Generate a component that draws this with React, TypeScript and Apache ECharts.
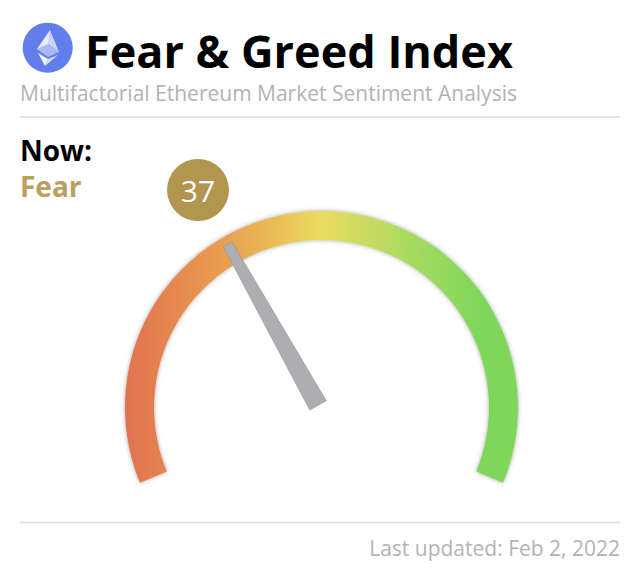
import { useEffect, useRef } from "react";
import * as echarts from "echarts";

const gaugeValue = 37;
const gaugeMin = 0;
const gaugeMax = 100;
const mood = "Fear";
const gradientStops: [number, string][] = [
  [0, "#e2714f"],
  [0.27, "#e9a250"],
  [0.5, "#eadc5f"],
  [0.72, "#a9da60"],
  [0.9, "#7fd75a"],
  [1, "#7fd75a"],
];

const font = "'Open Sans'";

export default function App() {
  const hostRef = useRef<HTMLDivElement>(null);

  useEffect(() => {
    const el = hostRef.current;
    if (!el) return;
    const chart = echarts.init(el, undefined, { renderer: "svg" });

    chart.setOption({
      animation: false,
      backgroundColor: "#fff",
      title: {
        text: "Fear & Greed Index",
        left: 85,
        top: 27,
        padding: 0,
        textStyle: { fontFamily: font, fontSize: 45, lineHeight: 46, fontWeight: "bold", color: "#000" },
      },
      graphic: [
        { type: "circle", shape: { cx: 47.7, cy: 47.7, r: 25 }, style: { fill: "#627eea" } },
        { type: "polygon", shape: { points: [[50, 30], [37, 49], [48, 55]] }, style: { fill: "#e6eafb" } },
        { type: "polygon", shape: { points: [[50, 30], [59, 52], [48, 44]] }, style: { fill: "#c9d3f8" } },
        { type: "polygon", shape: { points: [[37, 49], [48, 44], [59, 52], [48, 57]] }, style: { fill: "#a9b9f3" } },
        { type: "polygon", shape: { points: [[38, 53], [48, 59], [45, 66]] }, style: { fill: "#f4f6fe" } },
        { type: "polygon", shape: { points: [[48, 59], [58, 55], [45, 66]] }, style: { fill: "#d3dbf9" } },
        { type: "text", x: 20, y: 81, style: { text: "Multifactorial Ethereum Market Sentiment Analysis", fontFamily: font, fontSize: 21, lineHeight: 24, fill: "#b3b3b3" } },
        { type: "line", shape: { x1: 20, y1: 117, x2: 620, y2: 117 }, style: { stroke: "#dddddd", lineWidth: 1.5 } },
        { type: "text", x: 20, y: 136, style: { text: "Now:", fontFamily: font, fontSize: 28, fontWeight: "bold", fill: "#000" } },
        { type: "text", x: 20, y: 172, style: { text: mood, fontFamily: font, fontSize: 28, fontWeight: "bold", fill: "#b9a061" } },
        { type: "line", shape: { x1: 20, y1: 522.5, x2: 620, y2: 522.5 }, style: { stroke: "#dddddd", lineWidth: 1.5 } },
        { type: "text", x: 620, y: 537, style: { text: "Last updated: Feb 2, 2022", align: "right", fontFamily: font, fontSize: 21, fill: "#b3b3b3" } },
      ],
      series: [
        {
          type: "gauge",
          center: [321.5, 407.5],
          radius: 196.5,
          startAngle: 202.5,
          endAngle: -22.5,
          min: gaugeMin,
          max: gaugeMax,
          axisLine: {
            roundCap: false,
            lineStyle: {
              width: 29,
              color: [
                [
                  1,
                  new echarts.graphic.LinearGradient(
                    0,
                    0,
                    1,
                    0,
                    gradientStops.map(([offset, color]) => ({ offset, color })),
                  ),
                ],
              ],
              shadowBlur: 4,
              shadowColor: "rgba(70,70,70,0.5)",
            },
          },
          splitLine: { show: false },
          axisTick: { show: false },
          axisLabel: { show: false },
          anchor: { show: false },
          pointer: {
            icon: "path://M4.5 0L14.5 0L19 100L0 100Z",
            length: 185,
            width: 19,
            offsetCenter: [-2, -3.5],
            itemStyle: { color: "#adadb2", borderColor: "#8f8f93", borderWidth: 0.5 },
          },
          title: { show: false },
          detail: {
            show: true,
            offsetCenter: [-123.5, -217.5],
            padding: 0,
            width: 62,
            height: 62,
            lineHeight: 62,
            borderRadius: 31,
            backgroundColor: "#b2954f",
            color: "#fff",
            fontFamily: font,
            fontSize: 30,
            fontWeight: "normal",
            formatter: "{value}",
          },
          data: [{ value: gaugeValue }],
        },
      ],
    });

    return () => chart.dispose();
  }, []);

  return <div ref={hostRef} style={{ position: "fixed", left: 0, top: 0, width: 640, height: 570 }} />;
}
